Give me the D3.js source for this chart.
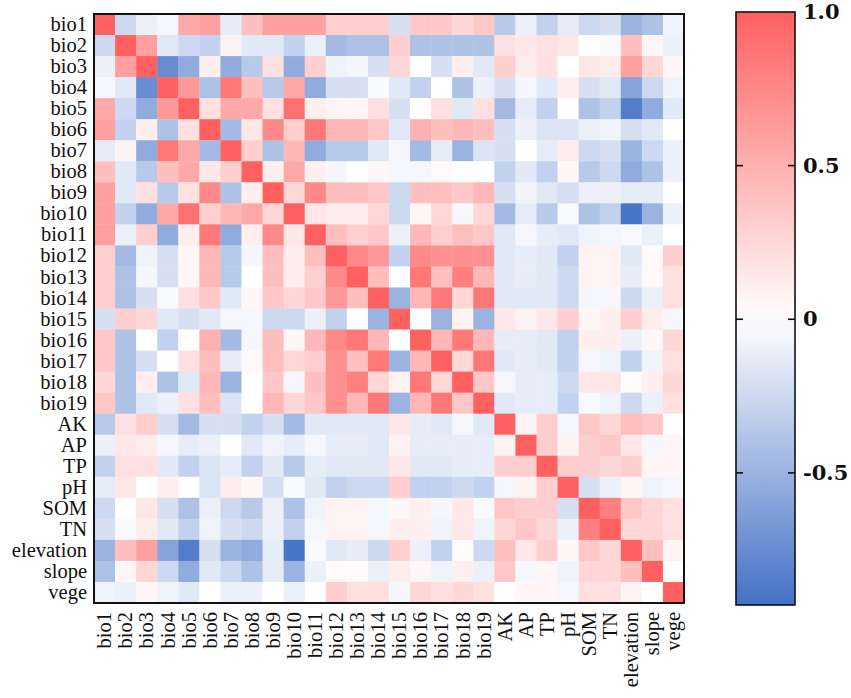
<!DOCTYPE html>
<html>
<head>
<meta charset="utf-8">
<script src="https://cdn.jsdelivr.net/npm/d3@7"></script>
<style>
  body{margin:0;background:#ffffff;}
  svg{display:block;}
</style>
</head>
<body>
<svg id="chart" width="851" height="698"></svg>
<script>
//variables on both axes
var labels = ['bio1','bio2','bio3','bio4','bio5','bio6','bio7','bio8','bio9','bio10',
              'bio11','bio12','bio13','bio14','bio15','bio16','bio17','bio18','bio19',
              'AK','AP','TP','pH','SOM','TN','elevation','slope','vege'];

//lower triangle of the correlation matrix, row i holds columns 0..i
var lowerRows = [
  [1],
  [-0.25, 1],
  [-0.1, 0.6, 1],
  [-0.05, -0.15, -0.75, 1],
  [0.55, -0.25, -0.55, 0.65, 1],
  [0.6, -0.3, 0.1, -0.4, 0.2, 1],
  [-0.12, 0.08, -0.55, 0.85, 0.55, -0.45, 1],
  [0.4, -0.15, -0.35, 0.4, 0.55, 0.15, 0.3, 1],
  [0.6, -0.15, 0.2, -0.35, 0.2, 0.75, -0.4, 0.1, 1],
  [0.6, -0.3, -0.55, 0.55, 0.9, 0.3, 0.45, 0.55, 0.25, 1],
  [0.6, -0.1, 0.3, -0.55, 0.1, 0.85, -0.55, 0.1, 0.75, 0.15, 1],
  [0.3, -0.45, -0.08, -0.2, 0.06, 0.45, -0.35, -0.05, 0.4, 0.12, 0.4, 1],
  [0.3, -0.4, -0.05, -0.2, 0.06, 0.45, -0.35, 0.0, 0.4, 0.12, 0.3, 0.75, 1],
  [0.3, -0.4, -0.2, -0.03, 0.2, 0.35, -0.15, 0.05, 0.35, 0.25, 0.35, 0.65, 0.4, 1],
  [-0.2, 0.3, 0.25, -0.15, -0.2, -0.15, -0.05, -0.05, -0.25, -0.25, -0.1, -0.3, 0.0, -0.5, 1],
  [0.35, -0.4, 0.0, -0.3, 0.0, 0.5, -0.45, -0.05, 0.4, 0.05, 0.45, 0.75, 0.85, 0.45, 0.0, 1],
  [0.35, -0.4, -0.2, 0.0, 0.2, 0.4, -0.12, 0.04, 0.4, 0.25, 0.3, 0.7, 0.4, 0.85, -0.5, 0.45, 1],
  [0.25, -0.4, 0.1, -0.4, -0.15, 0.45, -0.5, 0.0, 0.35, -0.05, 0.4, 0.7, 0.8, 0.25, 0.08, 0.85, 0.25, 1],
  [0.35, -0.4, -0.15, -0.1, 0.2, 0.4, -0.18, 0.0, 0.45, 0.25, 0.35, 0.7, 0.45, 0.85, -0.5, 0.45, 0.85, 0.35, 1],
  [-0.35, 0.2, 0.3, -0.2, -0.45, -0.2, -0.2, -0.3, -0.2, -0.45, -0.15, -0.15, -0.15, -0.15, 0.15, -0.12, -0.15, -0.05, -0.15, 1],
  [-0.1, 0.15, 0.12, -0.05, -0.12, -0.1, 0.0, -0.15, -0.08, -0.12, -0.05, -0.12, -0.12, -0.15, 0.08, -0.12, -0.12, -0.12, -0.12, 0.08, 1],
  [-0.3, 0.2, 0.2, -0.15, -0.3, -0.18, -0.12, -0.3, -0.15, -0.35, -0.12, -0.15, -0.15, -0.15, 0.15, -0.15, -0.15, -0.12, -0.12, 0.3, 0.3, 1],
  [-0.12, 0.15, 0.0, 0.1, 0.0, -0.18, 0.12, 0.05, -0.2, -0.03, -0.15, -0.3, -0.25, -0.25, 0.3, -0.3, -0.3, -0.25, -0.3, -0.05, 0.08, 0.3, 1],
  [-0.25, 0.0, 0.15, -0.2, -0.4, -0.1, -0.25, -0.35, -0.1, -0.4, -0.08, 0.08, 0.08, -0.05, 0.05, 0.1, -0.05, 0.15, -0.03, 0.35, 0.3, 0.3, -0.2, 1],
  [-0.2, -0.03, 0.12, -0.15, -0.3, -0.08, -0.2, -0.25, -0.1, -0.3, -0.05, 0.08, 0.08, -0.05, 0.1, 0.1, -0.08, 0.15, -0.08, 0.25, 0.35, 0.25, -0.1, 0.8, 1],
  [-0.5, 0.4, 0.6, -0.6, -0.85, -0.2, -0.5, -0.55, -0.12, -0.9, -0.03, -0.15, -0.12, -0.25, 0.3, -0.1, -0.3, 0.02, -0.25, 0.4, 0.15, 0.3, 0.05, 0.35, 0.25, 1],
  [-0.4, 0.05, 0.25, -0.25, -0.55, -0.15, -0.25, -0.4, -0.12, -0.5, -0.1, 0.04, 0.04, -0.1, 0.12, 0.05, -0.08, 0.1, -0.1, 0.35, -0.05, 0.05, -0.08, 0.25, 0.25, 0.4, 1],
  [-0.08, -0.1, 0.05, -0.08, -0.15, 0.0, -0.1, -0.1, 0.0, -0.1, 0.0, 0.3, 0.2, 0.2, -0.05, 0.25, 0.2, 0.25, 0.2, 0.0, 0.05, 0.05, -0.05, 0.2, 0.2, 0.08, 0.0, 1]
];

//colour bar
var colorDomain = [-0.93, 0, 1.0];
var colorRange = ['#4371c6', '#ffffff', '#ff6060'];
var barTicks = [1, 0.5, 0, -0.5];
var barTickLabels = ['1.0', '0.5', '0', '-0.5'];

//mirror the lower triangle into a full grid of cells
let cells = [];
lowerRows.forEach((row, i) => {
    row.forEach((v, j) => {
        cells.push({row: labels[i], col: labels[j], value: v});
        if (i !== j) cells.push({row: labels[j], col: labels[i], value: v});
    });
});

var svg = d3.select('#chart');

var x = d3.scaleBand().domain(labels).range([94, 684]);
var y = d3.scaleBand().domain(labels).range([14, 603]);
var color = d3.scaleLinear().domain(colorDomain).range(colorRange);

//heatmap cells
svg.append('g')
   .selectAll('rect')
   .data(cells)
   .enter()
   .append('rect')
   .attr('x', d => x(d.col))
   .attr('y', d => y(d.row))
   .attr('width', x.bandwidth() + 0.4)
   .attr('height', y.bandwidth() + 0.4)
   .style('fill', d => color(d.value));

svg.append('rect')
   .attr('x', 94).attr('y', 14)
   .attr('width', 590).attr('height', 589)
   .style('fill', 'none')
   .style('stroke', '#111111')
   .style('stroke-width', 2);

//row labels
let leftAxis = svg.append('g')
   .attr('transform', 'translate(94,0)')
   .call(d3.axisLeft(y).tickSize(0).tickPadding(7));
leftAxis.select('.domain').remove();
leftAxis.selectAll('text')
   .style('font-family', '"Liberation Serif", serif')
   .style('font-size', '20.5px')
   .style('fill', '#111111');

//column labels, turned upright
let bottomAxis = svg.append('g')
   .attr('transform', 'translate(0,603)')
   .call(d3.axisBottom(x).tickSize(0));
bottomAxis.select('.domain').remove();
bottomAxis.selectAll('text')
   .attr('transform', 'rotate(-90)')
   .attr('x', -9)
   .attr('y', 0)
   .attr('dy', '0.33em')
   .style('text-anchor', 'end')
   .style('font-family', '"Liberation Serif", serif')
   .style('font-size', '20.5px')
   .style('fill', '#111111');

//colour bar
var barX = 736, barW = 59, barTop = 12, barBottom = 605;
var barScale = d3.scaleLinear().domain([colorDomain[0], colorDomain[2]]).range([barBottom, barTop]);

let grad = svg.append('defs').append('linearGradient')
   .attr('id', 'barGrad')
   .attr('x1', 0).attr('y1', 1).attr('x2', 0).attr('y2', 0);
grad.selectAll('stop')
   .data(d3.range(0, 1.0001, 0.05))
   .enter()
   .append('stop')
   .attr('offset', t => t)
   .attr('stop-color', t => color(colorDomain[0] + t * (colorDomain[2] - colorDomain[0])));

svg.append('rect')
   .attr('x', barX).attr('y', barTop)
   .attr('width', barW).attr('height', barBottom - barTop)
   .style('fill', 'url(#barGrad)')
   .style('stroke', '#111111')
   .style('stroke-width', 1.6);

let inner = barTicks.filter(v => v < 1);
svg.append('g').selectAll('line')
   .data([...inner.map(v => ({v: v, x0: barX, x1: barX + 7})), ...inner.map(v => ({v: v, x0: barX + barW - 7, x1: barX + barW}))])
   .enter()
   .append('line')
   .attr('x1', d => d.x0).attr('x2', d => d.x1)
   .attr('y1', d => barScale(d.v)).attr('y2', d => barScale(d.v))
   .style('stroke', '#111111')
   .style('stroke-width', 1.6);

let barAxis = svg.append('g')
   .attr('transform', 'translate(' + (barX + barW) + ',0)')
   .call(d3.axisRight(barScale).tickValues(barTicks).tickFormat((d, i) => barTickLabels[i]).tickSize(0).tickPadding(8));
barAxis.select('.domain').remove();
barAxis.selectAll('text')
   .style('font-family', '"DejaVu Serif", serif')
   .style('font-weight', 'bold')
   .style('font-size', '21px')
   .style('fill', '#111111');
</script>
</body>
</html>
